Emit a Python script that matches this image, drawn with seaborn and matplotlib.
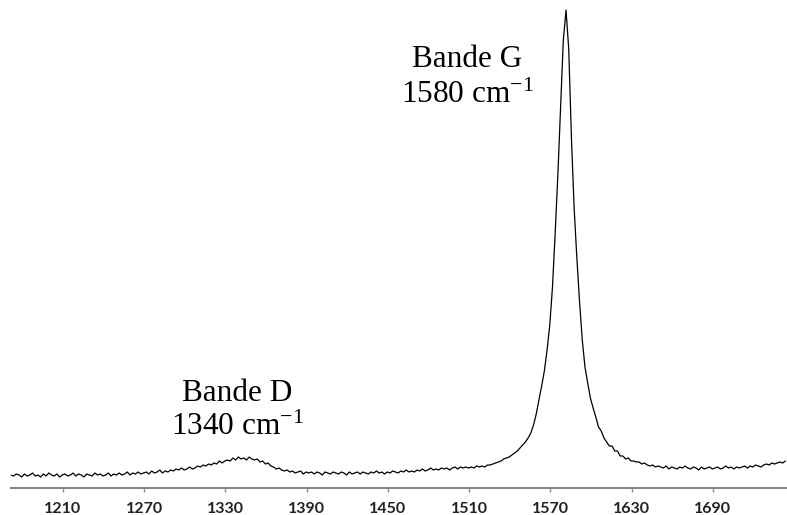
import numpy as np
import pandas as pd
import matplotlib
matplotlib.use("Agg")
import matplotlib.pyplot as plt
import seaborn as sns

# Raman shift grid (cm-1), spectrometer sampling
shift_start = 1171.5
shift_step = 2.0

# Intensity (arbitrary units), one value per grid point
intensity = [
    13, 12, 14, 13, 11, 14, 12, 13, 15, 12,
    13, 11, 14, 12, 15, 13, 12, 14, 11, 13,
    14, 12, 13, 15, 12, 14, 13, 11, 14, 13,
    12, 15, 13, 14, 12, 13, 15, 12, 14, 13,
    15, 13, 14, 16, 13, 15, 14, 16, 14, 15,
    16, 14, 17, 15, 16, 18, 15, 17, 16, 18,
    17, 19, 18, 20, 18, 19, 21, 19, 20, 22,
    21, 23, 22, 24, 23, 25, 24, 27, 25, 27,
    28, 27, 30, 28, 31, 29, 30, 28, 31, 29,
    28, 29, 26, 27, 24, 25, 22, 21, 19, 20,
    18, 17, 18, 16, 17, 15, 16, 17, 14, 16,
    15, 16, 14, 16, 15, 13, 16, 15, 14, 16,
    15, 14, 16, 15, 13, 16, 14, 15, 16, 14,
    16, 15, 14, 16, 15, 17, 15, 16, 14, 16,
    15, 17, 16, 15, 17, 16, 18, 16, 17, 16,
    18, 17, 19, 17, 18, 20, 18, 19, 18, 20,
    19, 20, 18, 20, 21, 19, 21, 20, 21, 20,
    21, 20, 22, 21, 22, 21, 23, 23, 24, 25,
    26, 27, 29, 30, 31, 33, 35, 37, 40, 43,
    46, 50, 55, 63, 74, 88, 102, 117, 138, 163,
    201, 255, 314, 380, 448, 478, 439, 350, 280, 230,
    186, 148, 121, 105, 90, 80, 71, 61, 57, 50,
    46, 42, 42, 37, 37, 32, 32, 29, 30, 27,
    27, 26, 26, 24, 25, 23, 22, 23, 21, 22,
    21, 20, 22, 19, 21, 20, 19, 21, 20, 22,
    20, 19, 21, 20, 18, 21, 19, 20, 21, 19,
    20, 21, 19, 20, 22, 20, 21, 19, 21, 20,
    21, 22, 20, 22, 21, 23, 22, 21, 23, 24,
    23, 25, 24, 25, 26, 25, 27,
]

tick_values = [1210, 1270, 1330, 1390, 1450, 1510, 1570, 1630, 1690]

band_names = ["Bande G", "Bande D"]
band_positions = [1580, 1340]
band_label_x = [1508.5, 1339.0]
band_name_y = [421, 87]
band_pos_y = [385, 53]

shift = shift_start + shift_step * np.arange(len(intensity))
df = pd.DataFrame({"shift": shift, "intensity": intensity})

sns.set_theme(style="white")
plt.rcParams["mathtext.fontset"] = "custom"
plt.rcParams["mathtext.rm"] = "Liberation Serif"
plt.rcParams["mathtext.it"] = "Liberation Serif:italic"

fig = plt.figure(figsize=(7.87, 5.15), dpi=100)
ax = fig.add_axes([11 / 787, 27 / 515, 776 / 787, 488 / 515])

sns.lineplot(data=df, x="shift", y="intensity", ax=ax, color="black",
             linewidth=0.9, estimator=None)

ax.set_xlim(1171.6, 1744.7)
ax.set_ylim(0, 488)
ax.set_xlabel("")
ax.set_ylabel("")
ax.set_yticks([])
ax.set_xticks(tick_values)
ax.set_xticklabels([str(t) for t in tick_values], fontfamily="Lato",
                   fontweight="bold", fontsize=11.5, color="#222222")
ax.tick_params(axis="x", direction="out", length=3, width=1, color="#888888",
               pad=7, bottom=True)
for side in ["left", "top", "right"]:
    ax.spines[side].set_visible(False)
ax.spines["bottom"].set_color("#888888")
ax.spines["bottom"].set_linewidth(1.5)

for name, pos, lx, ny, py in zip(band_names, band_positions, band_label_x,
                                 band_name_y, band_pos_y):
    ax.text(lx, ny, name, ha="center", va="baseline",
            fontfamily="Liberation Serif", fontsize=22.5, color="black")
    ax.text(lx, py, f"{pos} cm$^{{-1}}$", ha="center", va="baseline",
            fontfamily="Liberation Serif", fontsize=22.5, color="black")

fig.savefig("out.png", dpi=100)
